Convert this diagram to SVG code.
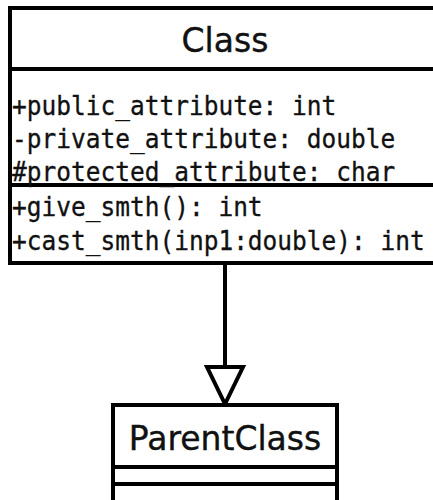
<svg xmlns="http://www.w3.org/2000/svg" width="433" height="500" viewBox="0 0 433 500">
<style>
.box{fill:#ffffff;stroke:#000000;stroke-width:4}
.ln{stroke:#000000;stroke-width:4;fill:none}
.title{font-family:"DejaVu Sans",sans-serif;font-size:33px;fill:#111111;stroke:#111111;stroke-width:0.4;text-anchor:middle}
.mono{font-family:"DejaVu Sans Mono",monospace;font-size:24.5px;fill:#111111;stroke:#111111;stroke-width:0.3}
</style>
<rect width="433" height="500" fill="#ffffff"/>
<g id="connectors">
<line class="ln" x1="225" y1="263" x2="225" y2="367"/>
<polygon class="ln" points="207,367 243,367 225,404" fill="#ffffff"/>
</g>
<g id="Class">
<rect class="box" x="10" y="8" width="440" height="255"/>
<line class="ln" x1="10" y1="69" x2="440" y2="69"/>
<line class="ln" x1="10" y1="185" x2="440" y2="185"/>
<text class="title" x="225" y="52">Class</text>
<text class="mono" transform="translate(12,115) scale(1,1.08)">+public_attribute: int</text>
<text class="mono" transform="translate(12,148) scale(1,1.08)">-private_attribute: double</text>
<text class="mono" transform="translate(12,181) scale(1,1.08)">#protected_attribute: char</text>
<text class="mono" transform="translate(12,216) scale(1,1.08)">+give_smth(): int</text>
<text class="mono" transform="translate(12,250) scale(1,1.08)">+cast_smth(inp1:double): int</text>
</g>
<g id="ParentClass">
<rect class="box" x="113" y="405" width="224" height="110"/>
<line class="ln" x1="113" y1="467" x2="337" y2="467"/>
<line class="ln" x1="113" y1="484" x2="337" y2="484"/>
<text class="title" x="225" y="450">ParentClass</text>
</g>
</svg>
